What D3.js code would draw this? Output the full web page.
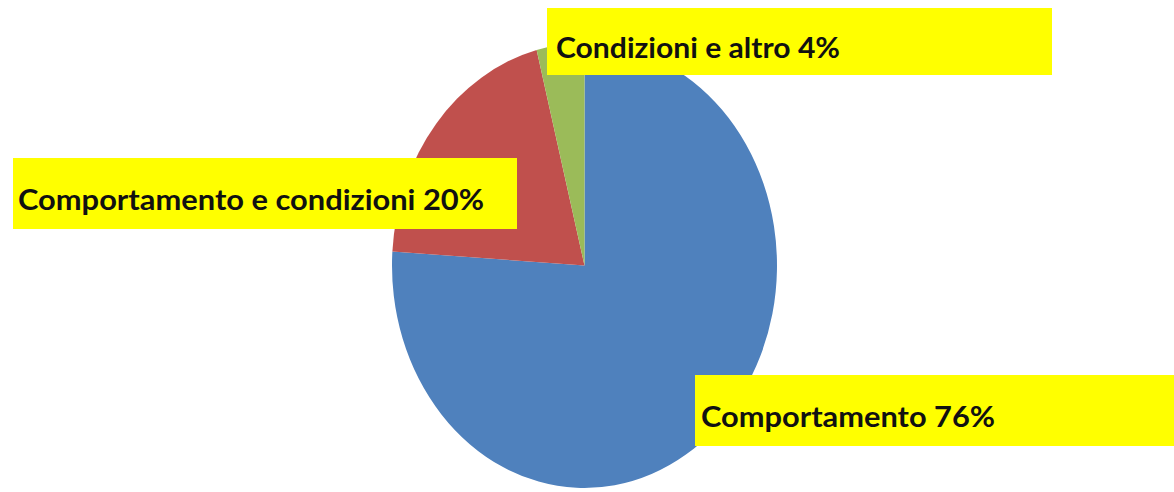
<!DOCTYPE html>
<html>
<head>
<meta charset="utf-8">
<script src="https://cdn.jsdelivr.net/npm/d3@7"></script>
<style>
  html, body { margin: 0; padding: 0; background: #ffffff; }
  svg { display: block; }
</style>
</head>
<body>
<svg id="chart" width="1174" height="492"></svg>
<script>
// ---- data ----
const categories = ["Comportamento", "Comportamento e condizioni", "Condizioni e altro"];
const values = [76, 20, 4];
const labels = ["Comportamento 76%", "Comportamento e condizioni 20%", "Condizioni e altro 4%"];
const colors = ["#4F81BD", "#C0504D", "#9BBB59"];

// ---- layout (label boxes) ----
const boxes = [
  { x: 695, y: 375, w: 479, h: 71, tx: 701, ty: 427, tw: 294 },
  { x: 13,  y: 158, w: 504, h: 71, tx: 18,  ty: 210, tw: 466 },
  { x: 547, y: 8,   w: 505, h: 67, tx: 556, ty: 58,  tw: 284 }
];

const svg = d3.select("#chart");
const cx = 584.5, cy = 265.5, rx = 192.5, ry = 222.5, R = 100;

const pie = d3.pie().sort(null).value(d => d.v).startAngle(0).endAngle(2 * Math.PI);
const arcs = pie(categories.map((c, i) => ({ c, v: values[i], i })));
const arc = d3.arc().innerRadius(0).outerRadius(R);

const g = svg.append("g")
  .attr("transform", `translate(${cx},${cy}) scale(${rx / R},${ry / R})`);
g.selectAll("path").data(arcs).join("path")
  .attr("d", arc)
  .attr("fill", d => colors[d.data.i]);

const lg = svg.append("g");
boxes.forEach((b, i) => {
  lg.append("rect")
    .attr("x", b.x).attr("y", b.y).attr("width", b.w).attr("height", b.h)
    .attr("fill", "#FFFF00");
  lg.append("text")
    .attr("x", b.tx).attr("y", b.ty)
    .attr("font-family", "Lato, 'DejaVu Sans', sans-serif")
    .attr("font-weight", "bold")
    .attr("font-size", 28)
    .attr("fill", "#111")
    .attr("textLength", b.tw)
    .attr("lengthAdjust", "spacingAndGlyphs")
    .text(labels[i]);
});
</script>
</body>
</html>
